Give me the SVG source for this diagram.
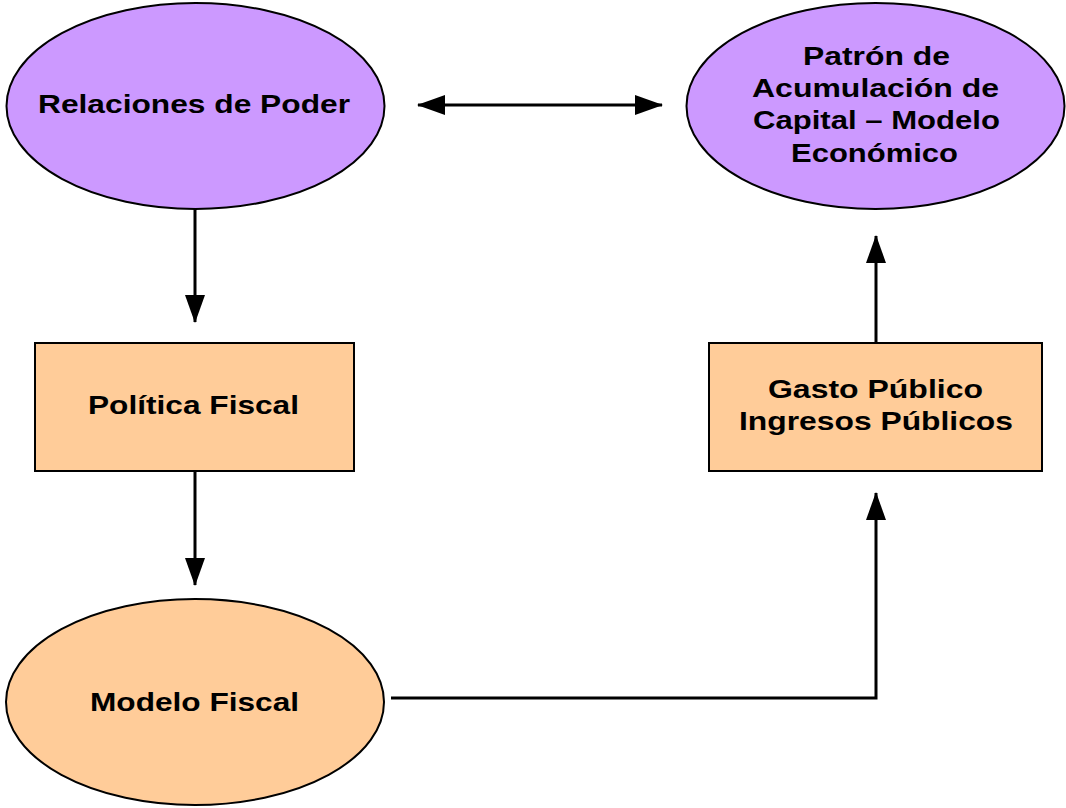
<svg xmlns="http://www.w3.org/2000/svg" width="1066" height="808" viewBox="0 0 1066 808">
<defs>
<style>
.purple{fill:#CC99FF;stroke:#000;stroke-width:2}
.orange{fill:#FFCC99;stroke:#000;stroke-width:2}
.lbl{font-family:"Liberation Sans",Arial,sans-serif;font-weight:bold;font-size:26px;fill:#000;text-anchor:middle}
.conn{fill:none;stroke:#000;stroke-width:3}
</style>
<marker id="ah" viewBox="0 0 28 20" refX="27" refY="10" markerWidth="28" markerHeight="20" markerUnits="userSpaceOnUse" orient="auto-start-reverse">
<path d="M0,0 L28,10 L0,20 Z" fill="#000"/>
</marker>
</defs>
<rect width="1066" height="808" fill="#fff"/>
<g id="connectors">
<line class="conn" x1="418" y1="105" x2="662" y2="105" marker-start="url(#ah)" marker-end="url(#ah)"/>
<line class="conn" x1="195" y1="209" x2="195" y2="322" marker-end="url(#ah)"/>
<line class="conn" x1="195" y1="471" x2="195" y2="585" marker-end="url(#ah)"/>
<polyline class="conn" points="391,698 876,698 876,493" marker-end="url(#ah)"/>
<line class="conn" x1="876" y1="343" x2="876" y2="236" marker-end="url(#ah)"/>
</g>
<g id="relaciones">
<ellipse class="purple" cx="195.5" cy="106" rx="189" ry="103"/>
<text class="lbl" x="194" y="113" textLength="312" lengthAdjust="spacingAndGlyphs">Relaciones de Poder</text>
</g>
<g id="patron">
<ellipse class="purple" cx="875.5" cy="106" rx="189" ry="103"/>
<text class="lbl" x="876.5" y="65" textLength="147" lengthAdjust="spacingAndGlyphs">Patrón de</text>
<text class="lbl" x="875.5" y="97" textLength="247" lengthAdjust="spacingAndGlyphs">Acumulación de</text>
<text class="lbl" x="876.5" y="129" textLength="247" lengthAdjust="spacingAndGlyphs">Capital – Modelo</text>
<text class="lbl" x="874.5" y="162" textLength="167" lengthAdjust="spacingAndGlyphs">Económico</text>
</g>
<g id="politica">
<rect class="orange" x="35" y="343" width="319" height="128"/>
<text class="lbl" x="193.5" y="414" textLength="211" lengthAdjust="spacingAndGlyphs">Política Fiscal</text>
</g>
<g id="gasto">
<rect class="orange" x="709" y="343" width="333" height="128"/>
<text class="lbl" x="875.5" y="398" textLength="215" lengthAdjust="spacingAndGlyphs">Gasto Público</text>
<text class="lbl" x="876" y="430" textLength="274" lengthAdjust="spacingAndGlyphs">Ingresos Públicos</text>
</g>
<g id="modelo">
<ellipse class="orange" cx="195" cy="702" rx="189" ry="103"/>
<text class="lbl" x="194.5" y="711" textLength="209" lengthAdjust="spacingAndGlyphs">Modelo Fiscal</text>
</g>
</svg>
